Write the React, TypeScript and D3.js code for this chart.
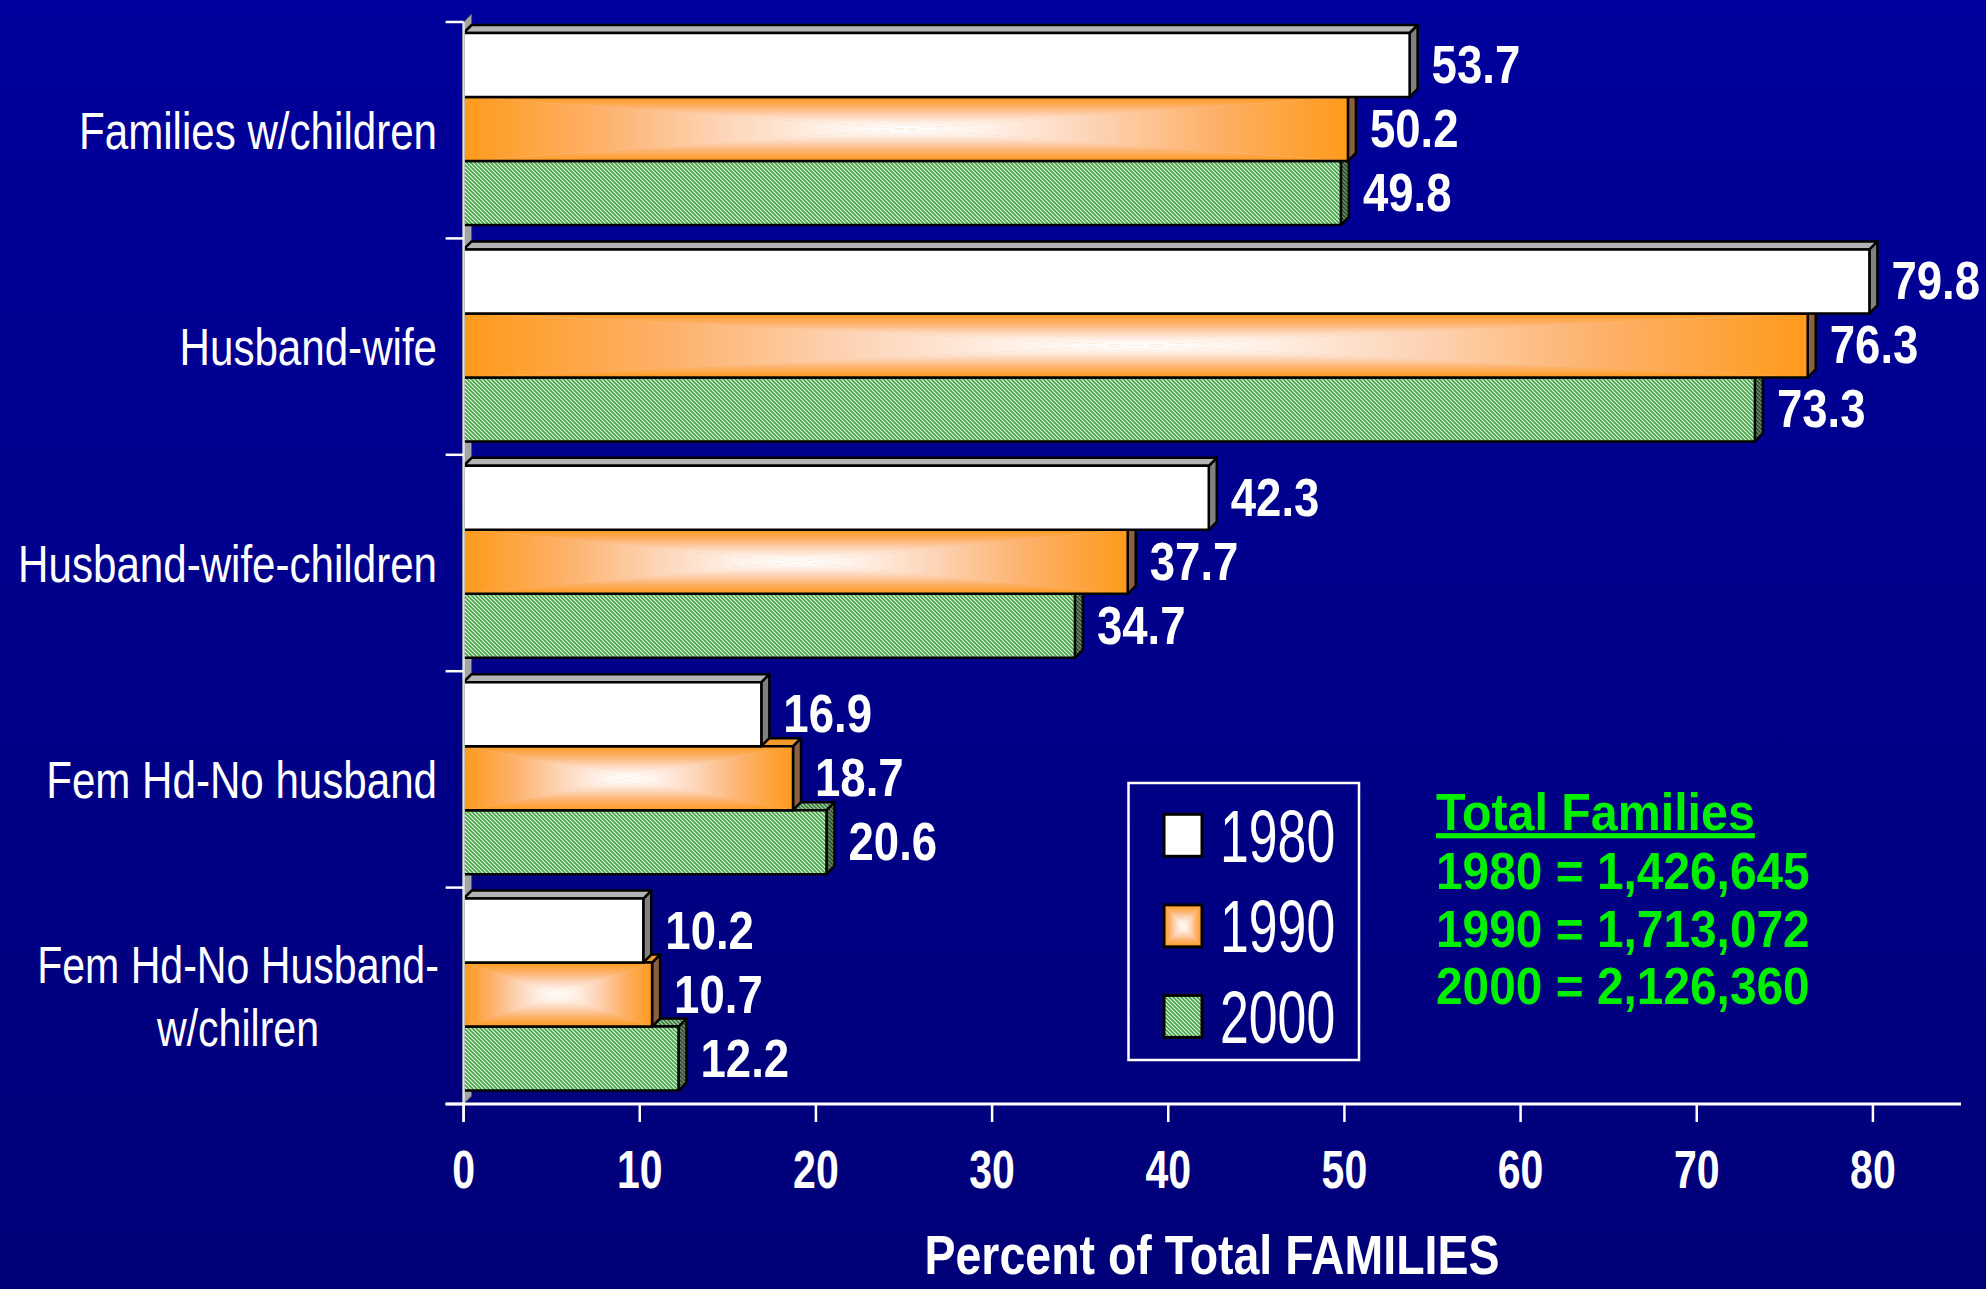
import React from 'react';
import * as d3 from 'd3';

const categories = ['Families w/children', 'Husband-wife', 'Husband-wife-children', 'Fem Hd-No husband', 'Fem Hd-No Husband-|w/chilren'];
const seriesNames = ['1980', '1990', '2000'];
const values1980 = [53.7, 79.8, 42.3, 16.9, 10.2];
const values1990 = [50.2, 76.3, 37.7, 18.7, 10.7];
const values2000 = [49.8, 73.3, 34.7, 20.6, 12.2];
const xTicks = [0, 10, 20, 30, 40, 50, 60, 70, 80];
const totalsTitle = 'Total Families';
const totalsLines = ['1980 = 1,426,645', '1990 = 1,713,072', '2000 = 2,126,360'];
const axisTitle = 'Percent of Total FAMILIES';

const W = 1986;
const H = 1289;
const FONT = "'Liberation Sans', Arial, sans-serif";
const DEPTH = 8;

const seriesValues = [values1980, values1990, values2000];

function NText({ x, y, sx, anchor = 'start', size, weight = 'normal', fill = '#fff', children, deco }: any) {
  return (
    <g transform={`translate(${x},${y}) scale(${sx},1)`}>
      <text x={0} y={0} textAnchor={anchor} fontSize={size} fontWeight={weight} fill={fill} fontFamily={FONT} textDecoration={deco}>
        {children}
      </text>
    </g>
  );
}

function RectGradient({ x, y, w, h }: any) {
  const cx = x + w / 2;
  const cy = y + h / 2;
  return (
    <g>
      <rect x={x} y={y} width={w} height={h} fill="#fdc28e" />
      <path d={`M${x},${y}L${cx},${cy}L${x},${y + h}Z`} fill="url(#gL)" />
      <path d={`M${x + w},${y}L${cx},${cy}L${x + w},${y + h}Z`} fill="url(#gR)" />
      <path d={`M${x},${y}L${x + w},${y}L${cx},${cy}Z`} fill="url(#gT)" />
      <path d={`M${x},${y + h}L${x + w},${y + h}L${cx},${cy}Z`} fill="url(#gB)" />
    </g>
  );
}

const styles = [
  { front: '#ffffff', top: '#b4b4b4', side: '#808080' },
  { front: 'grad', top: '#f39a2c', side: '#8a6040' },
  { front: 'url(#hatch)', top: 'url(#hatchMid)', side: 'url(#hatchDark)' },
];

export default function App() {
  const x = d3.scaleLinear().domain([0, 85]).range([463.6, 1961]);
  const yBand = d3.scaleBand<string>().domain(categories).range([22, 1104]);
  const inner = d3.scaleBand<string>().domain(seriesNames).range([11, 203]);
  const bh = inner.bandwidth();
  const x0 = x(0);
  const yTop = yBand.range()[0];
  const yBot = yBand.range()[1];

  const gradStops = (
    <>
      <stop offset="0" stopColor="#ff9a1a" />
      <stop offset="0.3" stopColor="#fdb068" />
      <stop offset="0.58" stopColor="#fdd4b6" />
      <stop offset="0.82" stopColor="#fff1e8" />
      <stop offset="1" stopColor="#ffffff" />
    </>
  );

  const bars: any[] = [];
  categories.forEach((cat, ci) => {
    for (let si = seriesNames.length - 1; si >= 0; si--) {
      const v = seriesValues[si][ci];
      const y0 = (yBand(cat) as number) + (inner(seriesNames[si]) as number);
      const x1 = x(v);
      const st = styles[si];
      const w = x1 - x0;
      bars.push(
        <g key={`${ci}-${si}`} stroke="#000" strokeWidth={2.5} strokeLinejoin="round">
          <path d={`M${x1},${y0}L${x1 + DEPTH},${y0 - DEPTH}L${x1 + DEPTH},${y0 + bh - DEPTH}L${x1},${y0 + bh}Z`} fill={st.side} />
          <path d={`M${x0},${y0}L${x0 + DEPTH},${y0 - DEPTH}L${x1 + DEPTH},${y0 - DEPTH}L${x1},${y0}Z`} fill={st.top} />
          {st.front === 'grad' ? (
            <g stroke="none"><RectGradient x={x0} y={y0} w={w} h={bh} /></g>
          ) : (
            <rect x={x0} y={y0} width={w} height={bh} fill={st.front} stroke="none" />
          )}
          <rect x={x0} y={y0} width={w} height={bh} fill="none" />
        </g>
      );
    }
  });

  const valueLabels: any[] = [];
  categories.forEach((cat, ci) => {
    seriesNames.forEach((s, si) => {
      const v = seriesValues[si][ci];
      const y0 = (yBand(cat) as number) + (inner(s) as number);
      valueLabels.push(
        <NText key={`v${ci}-${si}`} x={x(v) + DEPTH + 14} y={y0 + bh / 2 + 18} sx={0.86} size={53} weight="bold">
          {v.toFixed(1)}
        </NText>
      );
    });
  });

  const legendY = d3.scaleLinear().domain([0, 2]).range([835.3, 1016.4]);

  return (
    <svg width={W} height={H} style={{ position: 'absolute', left: 0, top: 0 }} xmlns="http://www.w3.org/2000/svg">
      <defs>
        <linearGradient id="bg" x1="0" y1="0" x2="0" y2="1">
          <stop offset="0" stopColor="#00009c" />
          <stop offset="1" stopColor="#000078" />
        </linearGradient>
        <linearGradient id="gL" x1="0" y1="0" x2="1" y2="0">{gradStops}</linearGradient>
        <linearGradient id="gR" x1="1" y1="0" x2="0" y2="0">{gradStops}</linearGradient>
        <linearGradient id="gT" x1="0" y1="0" x2="0" y2="1">{gradStops}</linearGradient>
        <linearGradient id="gB" x1="0" y1="1" x2="0" y2="0">{gradStops}</linearGradient>
        <pattern id="hatch" width="4" height="4" patternUnits="userSpaceOnUse">
          <rect width="4" height="4" fill="#eef9ee" />
          <path d="M-1,-1L5,5M3,-1L5,1M-1,3L1,5" stroke="#44a444" strokeWidth="1.7" />
        </pattern>
        <pattern id="hatchMid" width="4" height="4" patternUnits="userSpaceOnUse">
          <rect width="4" height="4" fill="#b8d8b8" />
          <path d="M-1,-1L5,5M3,-1L5,1M-1,3L1,5" stroke="#3a7a3a" strokeWidth="1.7" />
        </pattern>
        <pattern id="hatchDark" width="4" height="4" patternUnits="userSpaceOnUse">
          <rect width="4" height="4" fill="#7a9a7a" />
          <path d="M-1,-1L5,5M3,-1L5,1M-1,3L1,5" stroke="#2e4e2e" strokeWidth="1.7" />
        </pattern>
      </defs>
      <rect x={0} y={0} width={W} height={H} fill="url(#bg)" />

      {/* 3D side wall */}
      <path d={`M${x0},${yBot}L${x0 + DEPTH},${yBot - DEPTH}L${x0 + DEPTH},${yTop - DEPTH}L${x0},${yTop}Z`} fill="#a4a4a4" stroke="#555" strokeWidth={1} />

      {bars}

      {/* y axis */}
      <line x1={x0} x2={x0} y1={yTop} y2={yBot + 18} stroke="#e0e0e0" strokeWidth={2.5} />
      {[...categories.map((c) => yBand(c) as number), yBot].map((yy, i) => (
        <line key={`yt${i}`} x1={x0 - 18} x2={x0} y1={yy} y2={yy} stroke="#fff" strokeWidth={2.5} />
      ))}

      {/* x axis */}
      <line x1={x0 - 18} x2={x.range()[1]} y1={yBot} y2={yBot} stroke="#fff" strokeWidth={3} />
      {xTicks.map((t) => (
        <g key={`xt${t}`}>
          <line x1={x(t)} x2={x(t)} y1={yBot} y2={yBot + 18} stroke="#fff" strokeWidth={2.5} />
          <NText x={x(t)} y={1188} sx={0.76} anchor="middle" size={54} weight="bold">{String(t)}</NText>
        </g>
      ))}

      {/* category labels */}
      {categories.map((c) => {
        const cy = (yBand(c) as number) + yBand.bandwidth() / 2;
        const lines = c.split('|');
        if (lines.length === 1) {
          return <NText key={c} x={437} y={cy + 18.5} sx={0.81} anchor="end" size={52}>{c}</NText>;
        }
        return (
          <g key={c}>
            {lines.map((ln, li) => (
              <NText key={li} x={238} y={cy + 18.5 + (li - (lines.length - 1) / 2) * 63} sx={0.79} anchor="middle" size={52}>{ln}</NText>
            ))}
          </g>
        );
      })}

      {valueLabels}

      {/* legend */}
      <rect x={1128.5} y={783} width={230.5} height={277} fill="none" stroke="#fff" strokeWidth={2.5} />
      {seriesNames.map((s, si) => {
        const cy = legendY(si);
        const sy = cy - 21;
        return (
          <g key={`lg${s}`}>
            {si === 1 ? (
              <RectGradient x={1164} y={sy} w={38} h={42} />
            ) : (
              <rect x={1164} y={sy} width={38} height={42} fill={si === 0 ? '#fff' : 'url(#hatch)'} />
            )}
            <rect x={1164} y={sy} width={38} height={42} fill="none" stroke="#000" strokeWidth={3} />
            <NText x={1220} y={cy + 26.5} sx={0.7} size={74}>{s}</NText>
          </g>
        );
      })}

      {/* totals */}
      <NText x={1436} y={830} sx={0.93} size={52} weight="bold" fill="#00f000" deco="underline">{totalsTitle}</NText>
      {totalsLines.map((t, i) => (
        <NText key={t} x={1436} y={889 + i * 57.5} sx={0.92} size={52} weight="bold" fill="#00f000">{t}</NText>
      ))}

      {/* axis title */}
      <NText x={1212} y={1274} sx={0.83} anchor="middle" size={56} weight="bold">{axisTitle}</NText>
    </svg>
  );
}
